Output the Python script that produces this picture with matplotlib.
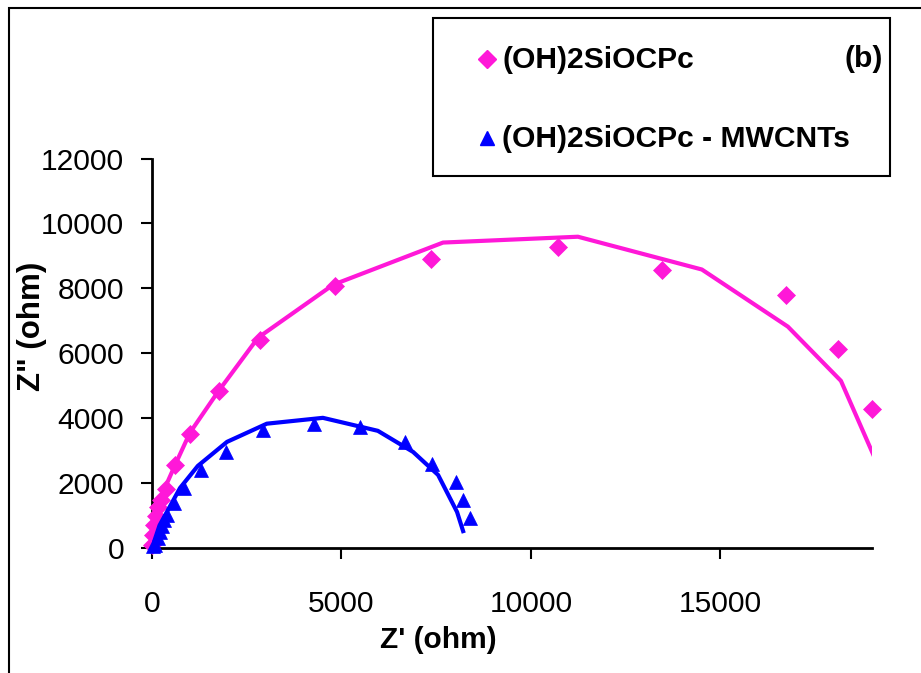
import matplotlib
matplotlib.use("Agg")
import matplotlib.pyplot as plt
import matplotlib.patches as patches
from matplotlib.lines import Line2D

plt.rcParams['font.family'] = ['Liberation Sans', 'DejaVu Sans']

# measured impedance (diamonds / triangles)
pink_x = [0, 20, 50, 100, 160, 230, 370, 610, 1000, 1770, 2850, 4830, 7360, 10710, 13460, 16730, 18100, 19000]
pink_y = [100, 400, 700, 1000, 1250, 1480, 1820, 2560, 3520, 4840, 6420, 8080, 8910, 9280, 8580, 7800, 6140, 4290]

blue_x = [20, 80, 160, 210, 260, 320, 400, 580, 840, 1290, 1950, 2930, 4270, 5490, 6680, 7390, 8020, 8210, 8390]
blue_y = [50, 100, 300, 500, 680, 860, 1020, 1390, 1850, 2410, 2960, 3640, 3830, 3730, 3270, 2590, 2040, 1480, 930]

# fitted curves
pink_fit_x = [0, 60, 150, 340, 610, 1000, 1740, 2800, 4780, 7680, 11240, 14510, 16780, 18180, 19400]
pink_fit_y = [0, 500, 1100, 1850, 2560, 3550, 4810, 6480, 8110, 9410, 9590, 8580, 6820, 5150, 1900]

blue_fit_x = [0, 200, 740, 1210, 1980, 3030, 4510, 5960, 6890, 7550, 8050, 8210]
blue_fit_y = [0, 700, 1850, 2530, 3270, 3830, 4010, 3610, 2960, 2250, 1110, 520]

x_ticks = [0, 5000, 10000, 15000]
y_ticks = [0, 2000, 4000, 6000, 8000, 10000, 12000]

labels = ["(OH)2SiOCPc", "(OH)2SiOCPc - MWCNTs"]
PINK = '#FF18D8'
BLUE = '#0000FF'

W, H = 921, 673
fig = plt.figure(figsize=(W / 100, H / 100), dpi=100)


def px(x, y):
    return x / W, 1 - y / H


# outer frame (partly cut by the image edge)
fig.patches.append(patches.Rectangle(px(9, 700), 940 / W, 692 / H, transform=fig.transFigure,
                                     fill=False, ec='black', lw=1.5))

ax = fig.add_axes([152 / W, 1 - 548 / H, 720 / W, 389.5 / H])
ax.set_xlim(0, 19000)
ax.set_ylim(0, 12000)

ax.plot(pink_x, pink_y, ls='none', marker='D', ms=9.2, color=PINK, mew=0.5, clip_on=False, zorder=3)
ax.plot(pink_fit_x, pink_fit_y, color=PINK, lw=3.0, zorder=4)
ax.plot(blue_x, blue_y, ls='none', marker='^', ms=10, color=BLUE, mew=0.5, clip_on=False, zorder=5)
ax.plot(blue_fit_x, blue_fit_y, color=BLUE, lw=3.0, zorder=6)

for s in ['top', 'right']:
    ax.spines[s].set_visible(False)
for s in ['left', 'bottom']:
    ax.spines[s].set_linewidth(2)
ax.set_xticks(x_ticks)
ax.set_yticks(y_ticks)
ax.tick_params(axis='both', direction='out', length=8, width=1.5, labelsize=21.6)
ax.tick_params(axis='x', pad=22)
ax.tick_params(axis='y', pad=12)

fig.text(*px(438, 640), "Z' (ohm)", ha='center', va='center', fontsize=21.5, fontweight='bold')
fig.text(*px(32, 326), 'Z" (ohm)', ha='center', va='center', rotation=90, fontsize=22.5, fontweight='bold')

# legend box
fig.patches.append(patches.Rectangle(px(433, 176), 457 / W, 158 / H, transform=fig.transFigure,
                                     fill=True, fc='white', ec='black', lw=1.5, zorder=10))
fig.lines.append(Line2D([487 / W], [1 - 59 / H], transform=fig.transFigure, marker='D', ms=9,
                        color=PINK, ls='none', zorder=11))
fig.lines.append(Line2D([487 / W], [1 - 138 / H], transform=fig.transFigure, marker='^', ms=9.5,
                        color=BLUE, ls='none', zorder=11))
fig.text(*px(502, 60), labels[0], ha='left', va='center', fontsize=21.6, fontweight='bold', zorder=12)
fig.text(*px(502, 139), labels[1], ha='left', va='center', fontsize=21.6, fontweight='bold', zorder=12)
fig.text(*px(883, 59), "(b)", ha='right', va='center', fontsize=21.6, fontweight='bold', zorder=12)

fig.savefig("out.png", dpi=100)
